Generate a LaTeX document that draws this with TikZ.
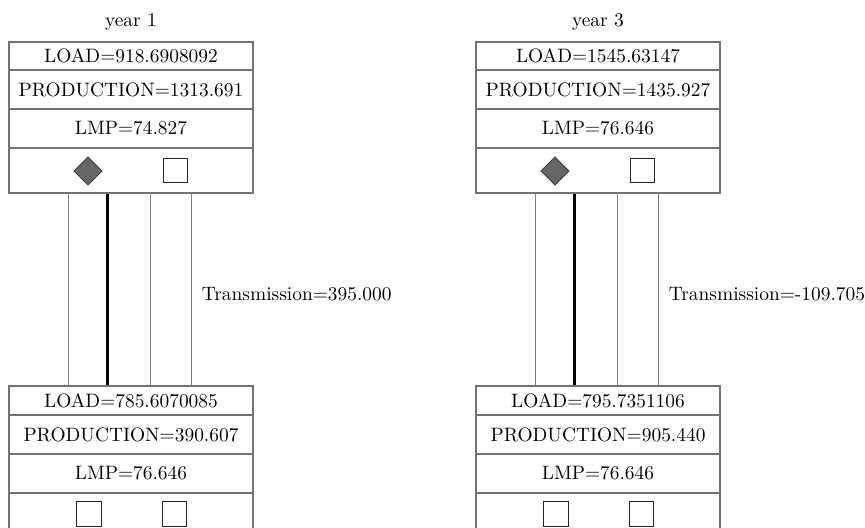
\documentclass[tikz,border=0pt]{standalone}
\usetikzlibrary{shapes.geometric}

\tikzset{
  row/.style={draw=black!55, line width=1.1pt, minimum width=125.7pt,
    inner sep=0pt, fill=white},
  loadrow/.style={row, minimum height=14.7pt},
  valrow/.style={row, minimum height=20pt},
  genrow/.style={row, minimum height=22.9pt},
  unit/.style={diamond, draw=black!75, fill=black!60, line width=0.5pt,
    minimum size=14.6pt, inner sep=0pt},
  slot/.style={rectangle, draw=black!85, fill=white, line width=0.5pt,
    minimum size=12.6pt, inner sep=0pt},
  feeder/.style={draw=black!50, line width=0.6pt},
  mainline/.style={draw=black, line width=1.6pt},
}

\begin{document}
\begin{tikzpicture}[x=0.515pt, y=-0.515pt]
  \useasboundingbox (0,0) rectangle (865,528);

  % one column per year: shift, load/production/lmp of both buses, flow
  \foreach \k/\sx/\lt/\pt/\mt/\lb/\pb/\mb/\tr in {%
      1/0/918.6908092/1313.691/74.827/785.6070085/390.607/76.646/395.000,
      3/467/1545.63147/1435.927/76.646/795.7351106/905.440/76.646/-109.705}{
    \begin{scope}[shift={(\sx,0)}]
      \node (year\k) at (131,22) {year \k};

      % upper bus
      \node[loadrow] (loadt\k) at (131,56)    {LOAD=\lt};
      \node[valrow]  (prodt\k) at (131,89.5)  {PRODUCTION=\pt};
      \node[valrow]  (lmpt\k)  at (131,128.5) {LMP=\mt};
      \node[genrow]  (gent\k)  at (131,170.5) {};
      \node[unit]    (unitt\k) at (88,171)    {};
      \node[slot]    (slott\k) at (175.5,170.5) {};

      % lower bus
      \node[loadrow] (loadb\k) at (131,400.3) {LOAD=\lb};
      \node[valrow]  (prodb\k) at (131,434.5) {PRODUCTION=\pb};
      \node[valrow]  (lmpb\k)  at (131,473.5) {LMP=\mb};
      \node[genrow]  (genb\k)  at (131,515.5) {};
      \node[slot]    (slotab\k) at (89,514)   {};
      \node[slot]    (slotbb\k) at (174.5,514) {};

      % lines between the buses
      \foreach \dx/\sty in {61/feeder, 100/mainline, 143/feeder, 184/feeder}
        \draw[\sty] ([xshift=\dx*0.515pt]gent\k.south west)
          -- ([xshift=\dx*0.515pt]loadb\k.north west);

      \node[anchor=west, inner sep=0pt] (flow\k) at (201.5,294) {Transmission=\tr};
    \end{scope}
  }

\end{tikzpicture}
\end{document}
